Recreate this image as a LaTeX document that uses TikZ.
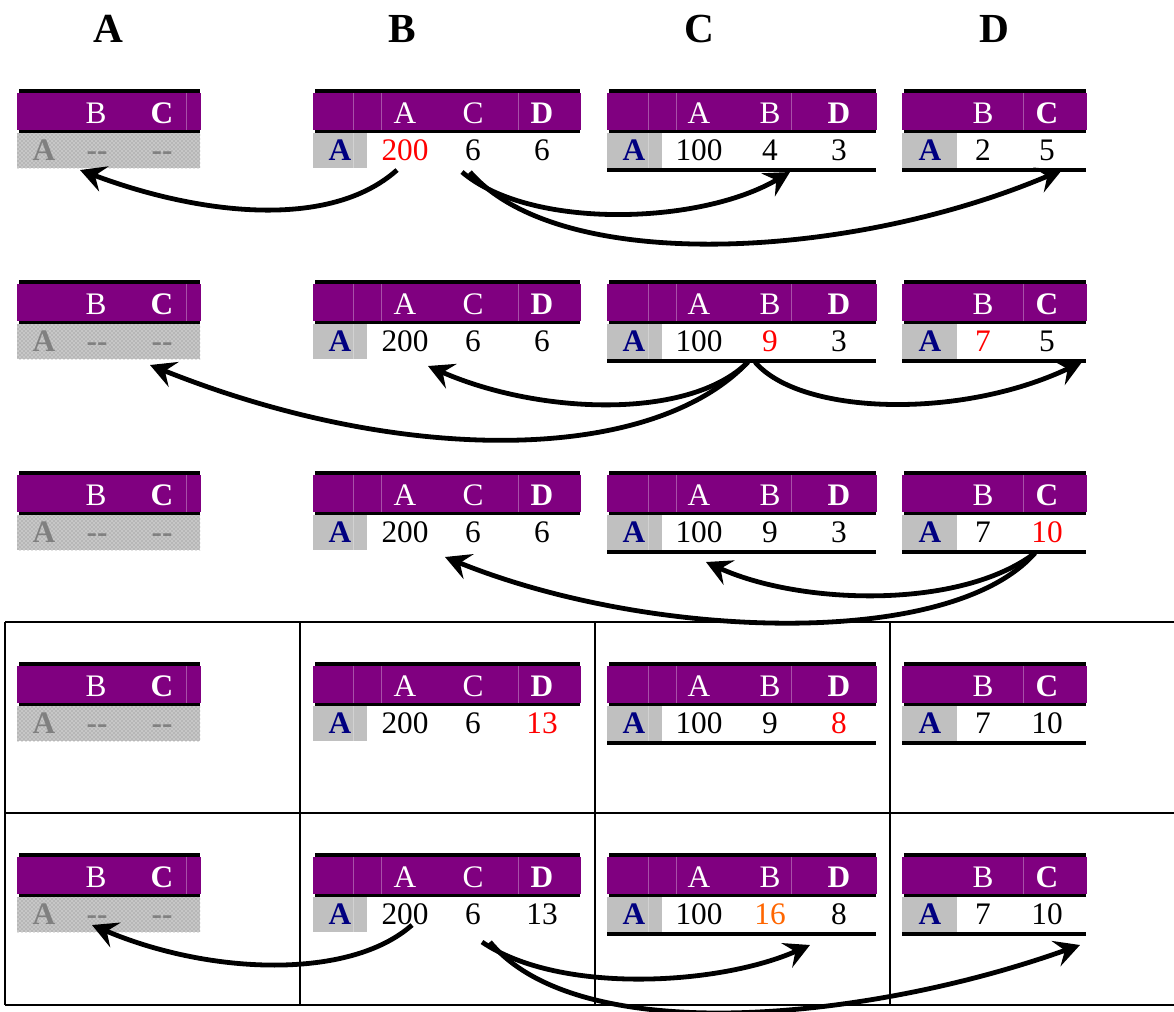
\documentclass[tikz,border=0pt]{standalone}
\usepackage{fontspec}
\setmainfont{Liberation Serif}
\usetikzlibrary{arrows.meta,patterns}
\definecolor{hdrpurple}{HTML}{800080}
\definecolor{hdrsep}{HTML}{A850A8}
\definecolor{cellgrey}{HTML}{C0C0C0}
\definecolor{cellsep}{HTML}{D2D2D2}
\definecolor{navyA}{HTML}{000080}
\definecolor{redv}{HTML}{FF0000}
\definecolor{orangev}{HTML}{FF6600}
\definecolor{dimtxt}{HTML}{808080}
\tikzset{
  celltxt/.style={font=\fontsize{23.5}{25}\selectfont, inner sep=0pt, anchor=base},
  hdrtxt/.style={celltxt, text=white},
  rowtxt/.style={celltxt, text=black},
  keytxt/.style={celltxt, text=navyA, font=\fontsize{23.5}{25}\selectfont\bfseries},
  dimA/.style={celltxt, text=dimtxt, font=\fontsize{23.5}{25}\selectfont\bfseries},
  coltitle/.style={font=\fontsize{31}{34}\selectfont\bfseries, inner sep=0pt, anchor=base},
  sepline/.style={draw=hdrsep, line width=0.6pt},
  greysep/.style={draw=cellsep, line width=0.6pt},
  gridline/.style={draw=black, line width=1.5pt},
  arr/.style={line width=3.6pt, -{Stealth[length=19pt,width=20pt,inset=7pt]}},
}
% header bar: x1, x2, top
\newcommand{\hdrbar}[3]{%
  \fill[black] (#1+2,#3) rectangle (#2,#3+4);
  \fill[hdrpurple] (#1,#3+4) rectangle (#2+1,#3+41);
  \fill[black] (#1+2,#3+41) rectangle (#2,#3+44);
}
% table of column A: top, prefix
\newcommand{\tabA}[2]{%
  \hdrbar{17}{200}{#1}
  \draw[sepline] (186,#1+4) -- (186,#1+41);
  \fill[black!22] (17,#1+44) rectangle (200,#1+79);
  \fill[pattern=crosshatch dots, pattern color=black!48] (17,#1+44) rectangle (200,#1+79);
  \node[hdrtxt] (#2hB) at (96,#1+34) {B};
  \node[hdrtxt] (#2hC) at (162,#1+34) {\textbf{C}};
  \node[dimA] (#2k) at (44,#1+71) {A};
  \node[dimA] (#2v1) at (97,#1+71) {-{}-};
  \node[dimA] (#2v2) at (162,#1+71) {-{}-};
}
% table of column B: top, prefix, v1, v2, v3
\newcommand{\tabB}[5]{%
  \hdrbar{313}{580}{#1}
  \draw[sepline] (353,#1+4) -- (353,#1+41);
  \draw[sepline] (381,#1+4) -- (381,#1+41);
  \draw[sepline] (518,#1+4) -- (518,#1+41);
  \fill[cellgrey] (313,#1+44) rectangle (367,#1+79);
  \draw[greysep] (353,#1+44) -- (353,#1+79);
  \node[hdrtxt] (#2hA) at (405,#1+34) {A};
  \node[hdrtxt] (#2hC) at (473,#1+34) {C};
  \node[hdrtxt] (#2hD) at (542,#1+34) {\textbf{D}};
  \node[keytxt] (#2k) at (340,#1+71) {A};
  \node[rowtxt] (#2v1) at (405,#1+71) {#3};
  \node[rowtxt] (#2v2) at (473,#1+71) {#4};
  \node[rowtxt] (#2v3) at (542,#1+71) {#5};
}
% table of column C: top, prefix, v1, v2, v3
\newcommand{\tabC}[5]{%
  \hdrbar{607}{876}{#1}
  \draw[sepline] (648,#1+4) -- (648,#1+41);
  \draw[sepline] (676,#1+4) -- (676,#1+41);
  \draw[sepline] (791,#1+4) -- (791,#1+41);
  \fill[cellgrey] (607,#1+44) rectangle (662,#1+79);
  \draw[greysep] (648,#1+44) -- (648,#1+79);
  \fill[black] (607,#1+79) rectangle (876,#1+83);
  \node[hdrtxt] (#2hA) at (699,#1+34) {A};
  \node[hdrtxt] (#2hB) at (770,#1+34) {B};
  \node[hdrtxt] (#2hD) at (839,#1+34) {\textbf{D}};
  \node[keytxt] (#2k) at (634,#1+71) {A};
  \node[rowtxt] (#2v1) at (699,#1+71) {#3};
  \node[rowtxt] (#2v2) at (770,#1+71) {#4};
  \node[rowtxt] (#2v3) at (839,#1+71) {#5};
}
% table of column D: top, prefix, v1, v2
\newcommand{\tabD}[4]{%
  \hdrbar{902}{1086}{#1}
  \draw[sepline] (1023,#1+4) -- (1023,#1+41);
  \fill[cellgrey] (902,#1+44) rectangle (957,#1+79);
  \fill[black] (902,#1+79) rectangle (1086,#1+83);
  \node[hdrtxt] (#2hB) at (983,#1+34) {B};
  \node[hdrtxt] (#2hC) at (1047,#1+34) {\textbf{C}};
  \node[keytxt] (#2k) at (930,#1+71) {A};
  \node[rowtxt] (#2v1) at (983,#1+71) {#3};
  \node[rowtxt] (#2v2) at (1047,#1+71) {#4};
}
\begin{document}
\begin{tikzpicture}[x=0.75pt,y=-0.75pt]
\useasboundingbox (0,0) rectangle (1174,1011);
\fill[white] (0,0) rectangle (1174,1011);

% column titles
\node[coltitle] (tA) at (108,42) {A};
\node[coltitle] (tB) at (402,42) {B};
\node[coltitle] (tC) at (699,42) {C};
\node[coltitle] (tD) at (994,42) {D};

% grid of the lower part
\draw[gridline] (5,622) -- (1174,622);
\draw[gridline] (5,813) -- (1174,813);
\draw[gridline] (5,1005) -- (1174,1005);
\draw[gridline] (5,622) -- (5,1005);
\draw[gridline] (300,622) -- (300,1005);
\draw[gridline] (595,622) -- (595,1005);
\draw[gridline] (890,622) -- (890,1005);

% row 1
\tabA{89}{ra1}
\tabB{89}{rb1}{\textcolor{redv}{200}}{6}{6}
\tabC{89}{rc1}{100}{4}{3}
\tabD{89}{rd1}{2}{5}
% row 2
\tabA{280}{ra2}
\tabB{280}{rb2}{200}{6}{6}
\tabC{280}{rc2}{100}{\textcolor{redv}{9}}{3}
\tabD{280}{rd2}{\textcolor{redv}{7}}{5}
% row 3
\tabA{471}{ra3}
\tabB{471}{rb3}{200}{6}{6}
\tabC{471}{rc3}{100}{9}{3}
\tabD{471}{rd3}{7}{\textcolor{redv}{10}}
% row 4
\tabA{662}{ra4}
\tabB{662}{rb4}{200}{6}{\textcolor{redv}{13}}
\tabC{662}{rc4}{100}{9}{\textcolor{redv}{8}}
\tabD{662}{rd4}{7}{10}
% row 5
\tabA{853}{ra5}
\tabB{853}{rb5}{200}{6}{13}
\tabC{853}{rc5}{100}{\textcolor{orangev}{16}}{8}
\tabD{853}{rd5}{7}{10}

% arrow end points
\coordinate (s1a) at (397,170);
\coordinate (s1b) at (462,172);
\coordinate (s1c) at (470,172);
\coordinate (e1a) at (80,170);
\coordinate (e1b) at (790,172);
\coordinate (e1c) at (1062,170);
\coordinate (s2a) at (748,362);
\coordinate (s2b) at (755,362);
\coordinate (e2a) at (150,365);
\coordinate (e2b) at (428,366);
\coordinate (e2c) at (1082,362);
\coordinate (s3) at (1035,553);
\coordinate (e3a) at (445,557);
\coordinate (e3b) at (706,562);
\coordinate (s5a) at (412,925);
\coordinate (s5b) at (482,942);
\coordinate (s5c) at (490,942);
\coordinate (e5a) at (92,925);
\coordinate (e5b) at (810,945);
\coordinate (e5c) at (1080,945);

% row 1 arrows
\draw[arr] (s1a) .. controls (330,230) and (200,215) .. (e1a);
\draw[arr] (s1b) .. controls (530,230) and (700,225) .. (e1b);
\draw[arr] (s1c) .. controls (560,275) and (850,260) .. (e1c);
% row 2 arrows
\draw[arr] (s2a) .. controls (650,465) and (400,465) .. (e2a);
\draw[arr] (s2a) .. controls (690,420) and (540,415) .. (e2b);
\draw[arr] (s2b) .. controls (800,415) and (960,420) .. (e2c);
% row 3 arrows
\draw[arr] (s3) .. controls (950,650) and (650,640) .. (e3a);
\draw[arr] (s3) .. controls (960,610) and (800,605) .. (e3b);
% row 5 arrows
\draw[arr] (s5a) .. controls (350,980) and (210,975) .. (e5a);
\draw[arr] (s5b) .. controls (560,995) and (720,985) .. (e5b);
\draw[arr] (s5c) .. controls (580,1050) and (870,1020) .. (e5c);
\end{tikzpicture}
\end{document}
